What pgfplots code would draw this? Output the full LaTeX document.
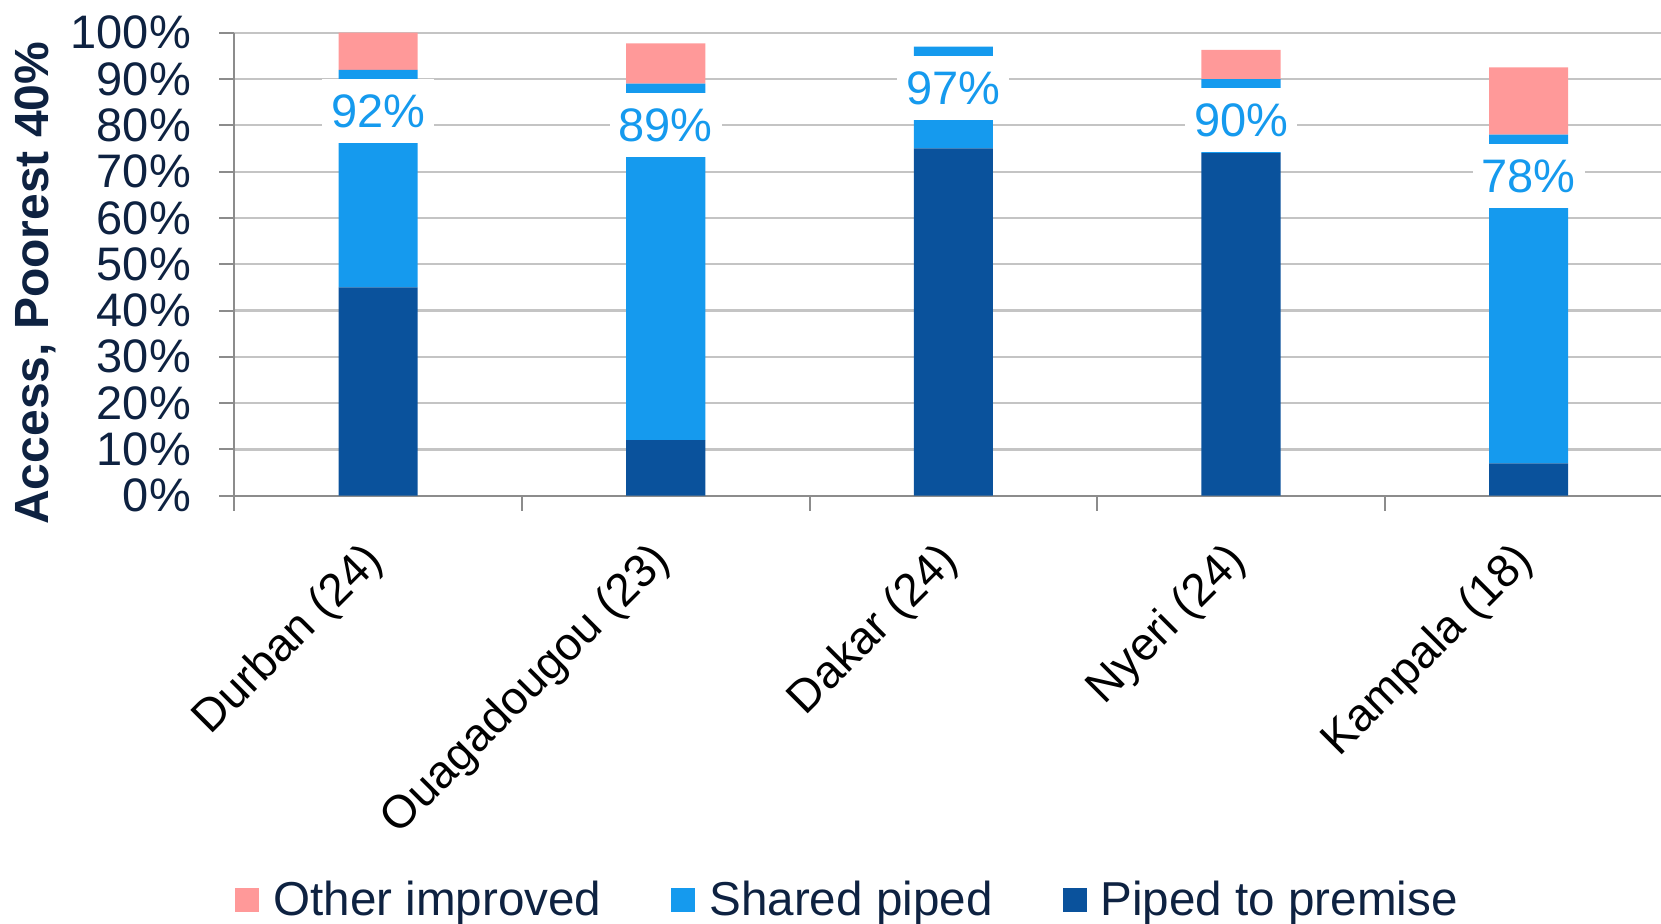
\documentclass[border=0pt]{standalone}
\usepackage{pgfplots}
\pgfplotsset{compat=1.18}
\usepackage{pgfplotstable}
\usepackage{fontspec}
\setmainfont{Liberation Sans}

\definecolor{piped}{HTML}{0A529C}
\definecolor{shared}{HTML}{159AEE}
\definecolor{other}{HTML}{FF9999}
\definecolor{navy}{HTML}{0E2241}
\definecolor{axisgray}{HTML}{8C8C8C}
\definecolor{gridgray}{HTML}{C4C4C4}

% access shares (%) per city; label = piped to premise + shared piped
\pgfplotstableread{
x piped shared other label
0 45 47 8.0 92
1 12 77 8.7 89
2 75 22 0.0 97
3 74 16 6.3 90
4 7 71 14.5 78
}\access

\newcommand{\chartfont}{\fontsize{23.5}{28}\selectfont}

\pgfplotsset{
  frame/.style={
    at={(0pt,0pt)}, anchor=south west,
    scale only axis,
    width=713.35pt, height=231.5pt,
    xmin=-0.5, xmax=4.46, ymin=0, ymax=100,
    enlargelimits=false,
  },
}

\begin{document}
\begin{tikzpicture}
\begin{axis}[
  frame,
  ybar stacked, bar width=0.275,
  axis lines*=left,
  axis line style={draw=axisgray, line width=1pt},
  ymajorgrids, grid style={draw=gridgray, line width=1.1pt},
  tick align=outside, major tick length=7.5pt,
  tick style={draw=axisgray, line width=1pt},
  ytick={0,10,...,100},
  yticklabels={0\%,10\%,20\%,30\%,40\%,50\%,60\%,70\%,80\%,90\%,100\%},
  yticklabel style={font=\chartfont, text=navy, inner sep=0pt, xshift=-14pt},
  xtick={-0.5,0.5,1.5,2.5,3.5},
  xticklabels={},
  extra x ticks={0,1,2,3,4},
  extra x tick labels={Durban (24),Ouagadougou (23),Dakar (24),Nyeri (24),Kampala (18)},
  extra x tick style={major tick length=0pt,
    xticklabel style={font=\fontsize{23}{28}\selectfont, text=black,
      xshift=-1pt, yshift=-29pt, rotate=45,
      anchor=east, inner sep=0pt}},
  ylabel={\textbf{Access, Poorest 40\%}},
  ylabel style={font=\fontsize{24}{28}\selectfont, text=navy,
    at={(axis description cs:-0.1397,0.459)}, anchor=center},
  legend columns=3, reverse legend,
  legend style={at={(axis description cs:0.0005,-0.8732)}, anchor=west,
    draw=none, fill=none, inner sep=0pt, font=\fontsize{23.8}{28}\selectfont, text=navy,
    nodes={inner sep=0pt},
    /tikz/every odd column/.append style={column sep=7pt},
    /tikz/every even column/.append style={column sep=35pt}},
  legend image code/.code={\fill[#1] (0pt,-6pt) rectangle (12pt,6pt);},
]
\addplot[fill=piped, draw=none] table[x=x, y=piped] {\access};
\addplot[fill=shared, draw=none] table[x=x, y=shared] {\access};
\addplot[fill=other, draw=none] table[x=x, y=other] {\access};
\legend{Piped to premise, Shared piped, Other improved}
\end{axis}
% value labels at the top of the shared piped segment
\begin{axis}[frame, hide axis]
\addplot[draw=none, mark=none,
  point meta=explicit symbolic,
  nodes near coords={\pgfplotspointmeta\%},
  nodes near coords style={font=\chartfont, text=shared, fill=white,
    anchor=north, yshift=-4.3pt, inner xsep=4.5pt, inner ysep=0pt,
    text height=16.8pt, text depth=0pt, minimum height=32pt}]
  table[x=x, y=label, meta=label] {\access};
\end{axis}
\pgfresetboundingbox
\path[use as bounding box] (-117.15pt,-213.65pt) rectangle (713.35pt,247.85pt);
\end{tikzpicture}
\end{document}
